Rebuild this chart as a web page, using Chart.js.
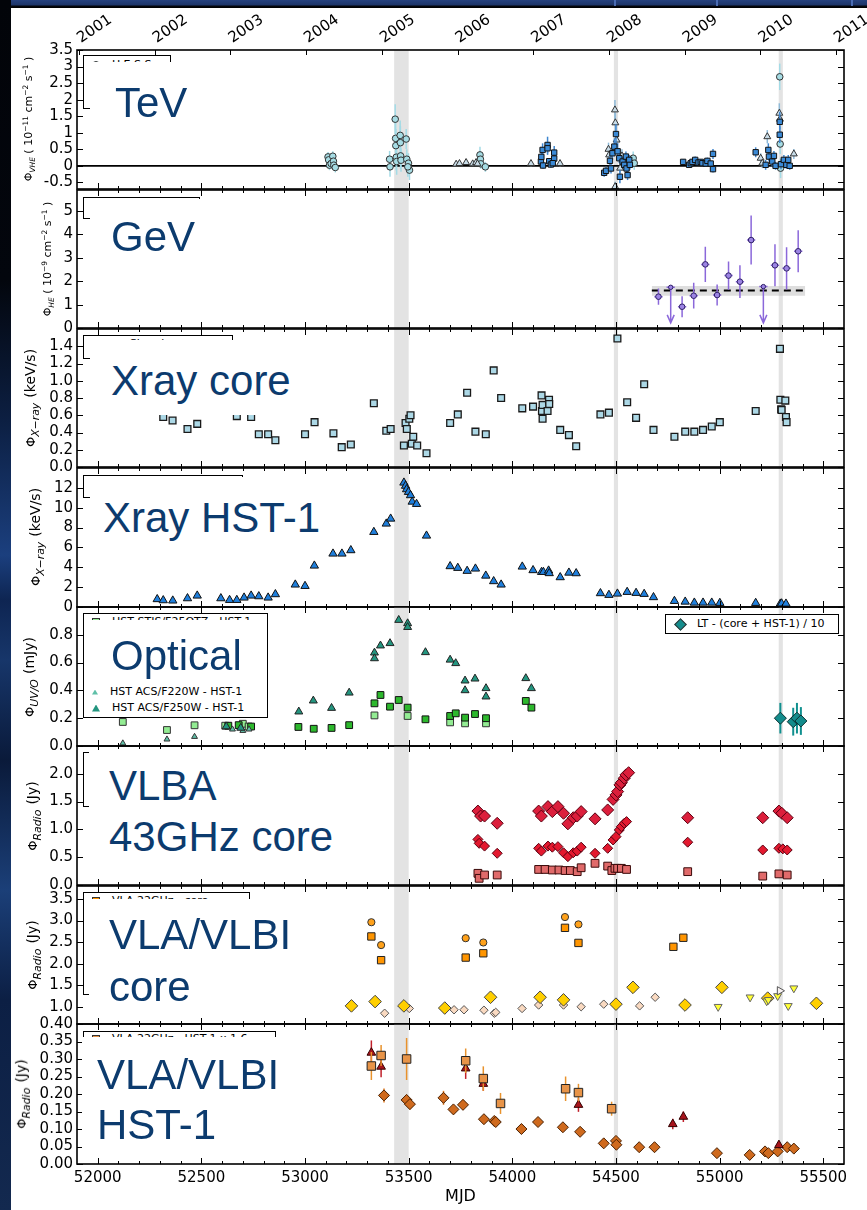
<!DOCTYPE html>
<html>
<head>
<meta charset="utf-8">
<title>M87 multi-wavelength light curves</title>
<script src="https://cdn.jsdelivr.net/npm/chart.js@4.4.1/dist/chart.umd.min.js"></script>
<style>
  html, body { margin: 0; padding: 0; }
  body { width: 867px; height: 1210px; position: relative; overflow: hidden; background: #fff; font-family: 'DejaVu Sans', sans-serif; }
  canvas { position: absolute; left: 0; }
  .strip-top { position: absolute; left: 0; top: 0; width: 867px; height: 8px; z-index: 20;
    background: linear-gradient(#26427f 0, #1d3569 5px, #05070e 6px, #000 8px); }
  .strip-top .rule { position: absolute; top: 0; width: 2px; height: 6px; background: #4a6cb4; }
  .strip-left { position: absolute; left: 0; top: 0; width: 11px; height: 1210px; z-index: 20;
    background: linear-gradient(#020409 0, #03060d 280px, #0c1f42 420px, #1b3f7e 555px, #0e2552 600px,
      #17366a 660px, #0a1a3a 760px, #1b3f78 890px, #0c1f44 1000px, #13294f 1210px); }
  .legend { position: absolute; background: #fff; border: 1px solid #000; box-sizing: border-box; z-index: 5;
    font-size: 11px; color: #000; white-space: nowrap; }
  .legend .row { position: absolute; left: 8px; height: 14px; line-height: 14px; }
  .legend .mk { display: inline-block; width: 6px; height: 6px; border: 1px solid #333; margin-right: 12px; vertical-align: middle; }
  .legend .tri { display: inline-block; width: 8px; height: 7px; margin-right: 12px; vertical-align: middle; clip-path: polygon(50% 0, 100% 100%, 0 100%); }
  .cover { position: absolute; background: #fff; z-index: 6; }
  .big { position: absolute; font-family: 'Liberation Sans', Arial, sans-serif; font-size: 42px; line-height: 42px;
    color: #0c3b6e; white-space: nowrap; z-index: 7; }
  .ytitle { position: absolute; white-space: nowrap; transform: translate(-50%, -50%) rotate(-90deg); color: #000; z-index: 4; }
  .ytitle sub, .ytitle sup { font-size: 68%; }
  .ytitle .phi { font-size: 13px; }
  .ytitle .unit { font-size: 14px; }
</style>
</head>
<body>
<div class="strip-top">
  <div class="rule" style="left:614px"></div>
  <div class="rule" style="left:716px"></div>
  <div class="rule" style="left:851px"></div>
</div>
<div class="strip-left"></div>

<!-- axis titles -->
<div class="ytitle" style="left:29px;top:119px;font-size:11px">Φ<sub><i>VHE</i></sub> ( 10<sup>−11</sup> cm<sup>−2</sup> s<sup>−1</sup> )</div>
<div class="ytitle" style="left:48px;top:259px;font-size:11px">Φ<sub><i>HE</i></sub> ( 10<sup>−9</sup> cm<sup>−2</sup> s<sup>−1</sup> )</div>
<div class="ytitle" style="left:31px;top:398px"><span class="phi">Φ</span><sub><i>X−ray</i></sub> <span class="unit">(keV/s)</span></div>
<div class="ytitle" style="left:36px;top:537px"><span class="phi">Φ</span><sub><i>X−ray</i></sub> <span class="unit">(keV/s)</span></div>
<div class="ytitle" style="left:30px;top:677px"><span class="phi">Φ</span><sub><i>UV/O</i></sub> <span class="unit">(mJy)</span></div>
<div class="ytitle" style="left:33px;top:816px"><span class="phi">Φ</span><sub><i>Radio</i></sub> <span class="unit">(Jy)</span></div>
<div class="ytitle" style="left:33px;top:955px"><span class="phi">Φ</span><sub><i>Radio</i></sub> <span class="unit">(Jy)</span></div>
<div class="ytitle" style="left:22px;top:1094px"><span class="phi">Φ</span><sub><i>Radio</i></sub> <span class="unit">(Jy)</span></div>

<!-- legends -->
<div class="legend" style="left:83px;top:55px;width:88px;height:54px">
  <div class="row" style="top:2px"><span class="mk" style="border-radius:50%;background:#a6dce4"></span>H.E.S.S.</div>
  <div class="row" style="top:18px"><span class="tri" style="background:#9cb8c8"></span>MAGIC</div>
  <div class="row" style="top:34px"><span class="mk" style="background:#3b8ad6"></span>VERITAS</div>
</div>
<div class="legend" style="left:83px;top:197px;width:117px;height:22px">
  <div class="row" style="top:4px"><span class="mk" style="border-radius:50%;background:#9c84e4"></span>Fermi-LAT</div>
</div>
<div class="legend" style="left:83px;top:335px;width:150px;height:24px">
  <div class="row" style="top:1px;left:45px">Chandra - core</div>
</div>
<div class="legend" style="left:83px;top:475px;width:160px;height:23px">
  <div class="row" style="top:4px;left:45px">Chandra - HST-1</div>
</div>
<div class="legend" style="left:83px;top:613px;width:185px;height:105px">
  <div class="row" style="top:1px"><span class="mk" style="background:#93ec93"></span>HST STIS/F25QTZ - HST-1</div>
  <div class="row" style="top:37px"><span class="mk" style="background:#2db82d"></span>HST ACS/F606W - HST-1</div>
  <div class="row" style="top:71px"><span class="tri" style="background:#5fc0a8;width:6px;height:5px"></span>HST ACS/F220W - HST-1</div>
  <div class="row" style="top:87px"><span class="tri" style="background:#23957f"></span>HST ACS/F250W - HST-1</div>
</div>
<div class="legend" style="left:665px;top:614px;width:174px;height:20px;font-size:11px">
  <div class="row" style="top:2px;left:10px"><span class="mk" style="background:#138c8c;transform:rotate(45deg);width:7px;height:7px;margin-right:12px"></span>LT - (core + HST-1) / 10</div>
</div>
<div class="legend" style="left:83px;top:752px;width:120px;height:55px">
  <div class="row" style="top:4px"><span class="mk" style="background:#dc1f3c"></span>VLBA 43GHz</div>
</div>
<div class="legend" style="left:83px;top:892px;width:167px;height:103px">
  <div class="row" style="top:1px"><span class="mk" style="background:#ff9500"></span>VLA 22GHz - core</div>
</div>
<div class="legend" style="left:83px;top:1031px;width:193px;height:100px">
  <div class="row" style="top:0px"><span class="mk" style="background:#e89448"></span>VLA 22GHz - HST-1 x 1.6</div>
</div>

<!-- panel captions -->
<div class="cover" style="left:90px;top:62px;width:112px;height:64px"></div>
<div class="cover" style="left:90px;top:199px;width:120px;height:61px"></div>
<div class="cover" style="left:90px;top:340px;width:212px;height:75px"></div>
<div class="cover" style="left:90px;top:477px;width:240px;height:66px"></div>
<div class="cover" style="left:85px;top:620px;width:181px;height:67px"></div>
<div class="cover" style="left:89px;top:750px;width:255px;height:110px"></div>
<div class="cover" style="left:89px;top:899px;width:215px;height:110px"></div>
<div class="cover" style="left:82px;top:1037px;width:215px;height:112px"></div>

<div class="big" style="left:115px;top:82px">TeV</div>
<div class="big" style="left:111px;top:216px">GeV</div>
<div class="big" style="left:111px;top:360px">Xray core</div>
<div class="big" style="left:103px;top:497px">Xray HST-1</div>
<div class="big" style="left:111px;top:635px">Optical</div>
<div class="big" style="left:109px;top:765px">VLBA</div>
<div class="big" style="left:109px;top:816px">43GHz core</div>
<div class="big" style="left:109px;top:914px">VLA/VLBI</div>
<div class="big" style="left:109px;top:966px">core</div>
<div class="big" style="left:97px;top:1054px">VLA/VLBI</div>
<div class="big" style="left:97px;top:1104px">HST-1</div>

<script>
// ---------- shared time axis ----------
const mjdTicks = [52000, 52500, 53000, 53500, 54000, 54500, 55000, 55500];
const yearTicks = [51910, 52275, 52640, 53005, 53371, 53736, 54101, 54466, 54832, 55197, 55562];
const yearLabels = ['2001', '2002', '2003', '2004', '2005', '2006', '2007', '2008', '2009', '2010', '2011'];
const flareBands = [[53430, 53500], [54490, 54510], [55285, 55305]];

// ---------- TeV ----------
const tevTicks = [-0.5, 0, 0.5, 1, 1.5, 2, 2.5, 3, 3.5];
const tevHessMjd = [53111, 53114, 53118, 53126, 53134, 53137, 53139, 53146,
  53408, 53410, 53435, 53437, 53438, 53440, 53442, 53459, 53460, 53461, 53463, 53488, 53491, 53499, 53504, 53496,
  53844, 53846, 53848, 53870, 54583, 54588, 55290, 55292, 55294];
const tevHessFlux = [0.27, 0.18, 0.02, 0.07, 0.29, 0.14, 0.02, -0.05,
  0.20, -0.03, 1.41, 0.83, 0.61, 0.26, 0.13, 0.92, 0.70, 0.30, 0.17, 0.81, 0.20, 0.08, -0.13, -0.03,
  0.33, 0.20, 0.06, -0.03, 0.23, 0.08, 2.69, 0.66, -0.07];
const tevHessErr = [0.15, 0.15, 0.15, 0.15, 0.15, 0.15, 0.15, 0.15,
  0.25, 0.3, 0.45, 0.55, 0.5, 0.4, 0.4, 0.45, 0.5, 0.4, 0.35, 0.3, 0.3, 0.3, 0.3, 0.3,
  0.25, 0.2, 0.15, 0.15, 0.2, 0.2, 0.4, 0.3, 0.3];
const tevMagicMjd = [53729, 53745, 53777, 53809, 53825, 53832, 54090, 54230,
  54464, 54467, 54495, 54497, 54503, 54496, 54520, 54529, 55198, 55206, 55230, 55288, 55291, 55358];
const tevMagicFlux = [0.05, 0.07, 0.10, 0.06, 0.10, 0.06, 0.07, 0.07,
  0.50, 0.33, 1.69, 1.30, 0.78, -0.63, -0.07, 0.30, 0.23, 0.08, 0.88, 1.59, 1.41, 0.36];
const tevMagicErr = [0.06, 0.06, 0.06, 0.06, 0.06, 0.06, 0.08, 0.08,
  0.2, 0.2, 0.3, 0.3, 0.25, 0.15, 0.15, 0.2, 0.15, 0.15, 0.2, 0.3, 0.3, 0.15];
const tevVeritasMjd = [54138, 54140, 54146, 54148, 54170, 54170, 54178, 54186, 54202, 54202, 54195,
  54443, 54452, 54471, 54476, 54483, 54492, 54500, 54508, 54516, 54519, 54532, 54540, 54548, 54551, 54556, 54564, 54567,
  54824, 54853, 54861, 54869, 54882, 54898, 54909, 54917, 54933, 54941, 54957, 54968, 54968,
  55174, 55222, 55235, 55238, 55254, 55262, 55270, 55290, 55290, 55296, 55310, 55322, 55331, 55338];
const tevVeritasFlux = [0.13, 0.27, 0.48, 0.01, 0.63, 0.53, 0.14, 0.04, 0.40, 0.22, 0.08,
  -0.21, -0.15, 0.15, -0.08, 0.38, 0.58, 0.96, 0.44, 0.23, -0.33, 0.13, 0.03, 0.28, -0.08, -0.28, 0.18, 0.03,
  0.12, 0.03, 0.08, 0.12, 0.18, 0.10, 0.12, 0.08, 0.07, 0.15, 0.07, 0.36, -0.10,
  0.41, 0.03, 0.48, 0.28, 0.13, 0.30, 0.00, 1.33, 0.94, 0.05, 0.18, 0.03, 0.18, 0.00];
const tevVeritasErr = [0.15, 0.15, 0.2, 0.1, 0.25, 0.2, 0.1, 0.1, 0.2, 0.15, 0.1,
  0.12, 0.12, 0.15, 0.15, 0.2, 0.25, 0.3, 0.25, 0.15, 0.2, 0.15, 0.12, 0.15, 0.15, 0.15, 0.15, 0.15,
  0.08, 0.08, 0.08, 0.08, 0.1, 0.08, 0.08, 0.08, 0.08, 0.1, 0.08, 0.15, 0.1,
  0.15, 0.15, 0.2, 0.15, 0.15, 0.15, 0.12, 0.3, 0.25, 0.15, 0.15, 0.12, 0.15, 0.12];

// ---------- GeV ----------
const gevTicks = [0, 1, 2, 3, 4, 5];
const gevMjd = [54705, 54819, 54875, 54931, 54988, 55043, 55098, 55152, 55267, 55323, 55379];
const gevFlux = [1.34, 0.91, 1.38, 2.72, 1.41, 2.24, 1.98, 3.76, 2.68, 2.55, 3.28];
const gevErr = [0.35, 0.45, 0.55, 0.75, 0.45, 0.6, 0.7, 1.05, 0.9, 0.9, 0.9];
const gevUlMjd = [54764, 55211];
const gevUlFlux = [1.74, 1.77];
const gevBinHalf = 20;
const gevMeanSpan = [54673, 55413];
const gevMean = 1.6;
const gevMeanBand = [1.38, 1.8];

// ---------- X-ray core ----------
const xcoreTicks = [0, 0.2, 0.4, 0.6, 0.8, 1.0, 1.2, 1.4];
const xcoreMjd = [52316, 52361, 52433, 52480, 52671, 52740, 52777, 52822, 52857, 53000, 53046, 53137, 53177, 53221,
  53332, 53392, 53413, 53477, 53485, 53491, 53503, 53509, 53515, 53522, 53541, 53586, 53700, 53737, 53782, 53822,
  53872, 53910, 53946, 54048, 54100, 54141, 54143, 54146, 54146, 54170, 54177, 54178, 54231, 54273, 54308,
  54425, 54466, 54507, 54554, 54597, 54636, 54681, 54782, 54834, 54878, 54920, 54962, 55001, 55174,
  55291, 55293, 55297, 55299, 55317, 55320, 55323];
const xcoreRate = [0.58, 0.54, 0.44, 0.50, 0.59, 0.58, 0.38, 0.38, 0.31, 0.38, 0.52, 0.39, 0.23, 0.26,
  0.74, 0.42, 0.44, 0.25, 0.51, 0.44, 0.56, 0.60, 0.27, 0.35, 0.25, 0.16, 0.51, 0.61, 0.86, 0.41,
  0.38, 1.12, 0.80, 0.68, 0.70, 0.83, 0.65, 0.72, 0.56, 0.65, 0.78, 0.73, 0.43, 0.37, 0.24,
  0.61, 0.63, 1.49, 0.75, 0.57, 0.96, 0.43, 0.35, 0.41, 0.41, 0.43, 0.47, 0.52, 0.65,
  1.37, 0.78, 0.67, 0.66, 0.77, 0.58, 0.52];

// ---------- X-ray HST-1 ----------
const xhstTicks = [0, 2, 4, 6, 8, 10, 12];
const xhstMjd = [52287, 52316, 52362, 52433, 52480, 52594, 52636, 52671, 52706, 52740, 52777, 52822, 52857,
  52953, 53000, 53045, 53135, 53178, 53221, 53332, 53392, 53413, 53477, 53485, 53490, 53499, 53509, 53517, 53538,
  53586, 53700, 53737, 53782, 53822, 53872, 53910, 53946, 54048, 54100, 54141, 54150, 54175, 54178, 54231, 54273,
  54308, 54425, 54466, 54507, 54554, 54597, 54636, 54681, 54782, 54834, 54878, 54920, 54962, 55001, 55174,
  55293, 55299, 55320];
const xhstRate = [0.78, 0.67, 0.64, 0.87, 1.14, 0.87, 0.70, 0.70, 0.94, 1.14, 1.07, 0.94, 1.28,
  2.25, 2.11, 4.16, 5.37, 5.37, 5.71, 7.55, 8.39, 8.89, 12.52, 12.2, 11.85, 11.58, 11.25, 10.6, 10.37,
  7.18, 4.10, 3.93, 3.63, 3.86, 3.15, 2.59, 2.25, 4.06, 3.70, 3.52, 3.52, 3.66, 3.40, 2.99, 3.45,
  3.39, 1.38, 1.21, 1.34, 1.51, 1.41, 1.31, 0.98, 0.60, 0.53, 0.43, 0.43, 0.43, 0.40, 0.40,
  0.33, 0.35, 0.33];

// ---------- UV / optical ----------
const optTicks = [0, 0.2, 0.4, 0.6, 0.8];
const optStisMjd = [52121, 52334, 52467, 52615, 52700, 52728, 53335, 53495, 53700, 53772, 53873];
const optStisFlux = [0.173, 0.115, 0.149, 0.146, 0.16, 0.14, 0.22, 0.216, 0.17, 0.163, 0.163];
const optF606Mjd = [52630, 52680, 52740, 52968, 53042, 53128, 53213, 53335, 53364, 53410, 53452, 53495,
  53581, 53700, 53727, 53772, 53820, 53873, 54065, 54092];
const optF606Flux = [0.146, 0.15, 0.14, 0.137, 0.124, 0.13, 0.15, 0.307, 0.367, 0.283, 0.331, 0.276,
  0.192, 0.216, 0.235, 0.204, 0.23, 0.2, 0.324, 0.276];
const optF220Mjd = [52121, 52334, 52467, 52650, 52700, 52730];
const optF220Flux = [0.02, 0.048, 0.067, 0.12, 0.11, 0.12];
const optF250Mjd = [52620, 52690, 52970, 53040, 53128, 53213, 53335, 53335, 53364, 53410, 53452, 53495, 53495,
  53581, 53700, 53727, 53772, 53772, 53820, 53873, 53873, 54065, 54092];
const optF250Flux = [0.14, 0.13, 0.247, 0.326, 0.273, 0.383, 0.671, 0.63, 0.722, 0.739, 0.906, 0.882, 0.855,
  0.674, 0.62, 0.595, 0.47, 0.40, 0.484, 0.415, 0.355, 0.487, 0.415];
const optLtMjd = [55293, 55355, 55373, 55392];
const optLtFlux = [0.20, 0.175, 0.20, 0.18];
const optLtErr = [0.11, 0.10, 0.11, 0.10];

// ---------- VLBA 43 GHz ----------
const vlbaTicks = [0, 0.5, 1.0, 1.5, 2.0];
const vlbaTotMjd = [53834, 53847, 53866, 53927, 54127, 54140, 54172, 54193, 54220, 54247, 54268, 54294, 54313,
  54332, 54399, 54460, 54486, 54500, 54508, 54519, 54526, 54540, 54548, 54561, 54846, 55208, 55286, 55300, 55326];
const vlbaTotFlux = [1.33, 1.24, 1.24, 1.11, 1.33, 1.24, 1.41, 1.32, 1.41, 1.29, 1.10, 1.21, 1.24,
  1.32, 1.19, 1.35, 1.54, 1.62, 1.68, 1.80, 1.84, 1.92, 1.98, 2.02, 1.21, 1.21, 1.33, 1.29, 1.21];
const vlbaCoreMjd = [53834, 53840, 53866, 53927, 54127, 54140, 54172, 54193, 54220, 54247, 54268, 54294, 54313,
  54332, 54399, 54460, 54486, 54500, 54516, 54526, 54540, 54551, 54846, 55208, 55286, 55305, 55326];
const vlbaCoreFlux = [0.82, 0.75, 0.70, 0.57, 0.66, 0.61, 0.70, 0.68, 0.69, 0.58, 0.51, 0.58, 0.61,
  0.68, 0.57, 0.66, 0.81, 0.87, 0.99, 1.05, 1.11, 1.14, 0.77, 0.63, 0.66, 0.65, 0.63];
const vlbaJetMjd = [53834, 53840, 53866, 53927, 54127, 54158, 54193, 54225, 54255, 54280, 54313, 54332,
  54399, 54460, 54480, 54495, 54508, 54526, 54551, 54846, 55208, 55286, 55326];
const vlbaJetFlux = [0.21, 0.12, 0.18, 0.18, 0.28, 0.28, 0.27, 0.27, 0.26, 0.26, 0.24, 0.31,
  0.39, 0.34, 0.26, 0.30, 0.30, 0.30, 0.28, 0.24, 0.16, 0.20, 0.18];

// ---------- VLA / VLBI core ----------
const vlaCoreTicks = [1.0, 1.5, 2.0, 2.5, 3.0, 3.5];
const vla15Mjd = [53320, 53367, 53775, 53860, 54254, 54319];
const vla15Flux = [2.96, 2.43, 2.59, 2.49, 3.08, 2.91];
const vla22Mjd = [53320, 53367, 53775, 53860, 54254, 54319, 54777, 54825];
const vla22Flux = [2.63, 2.08, 2.14, 2.24, 2.83, 2.48, 2.39, 2.60];
const vlbiGoldMjd = [53224, 53338, 53477, 53674, 53895, 54134, 54247, 54500, 54582, 54833, 55011, 55232, 55467];
const vlbiGoldFlux = [1.02, 1.12, 1.02, 0.97, 1.22, 1.22, 1.16, 1.06, 1.45, 1.04, 1.45, 1.20, 1.08];
const vlbiPeachMjd = [53384, 53503, 53674, 53719, 53767, 53863, 53913, 53920, 54047, 54127, 54247, 54332,
  54441, 54500, 54614, 54689];
const vlbiPeachFlux = [0.85, 0.96, 0.94, 0.93, 0.93, 0.92, 0.85, 0.87, 0.96, 1.04, 1.04, 1.00,
  1.06, 1.04, 1.02, 1.22];
const vlbiDownMjd = [54993, 55147, 55227, 55235, 55280, 55331, 55358];
const vlbiDownFlux = [1.0, 1.22, 1.13, 1.16, 1.25, 1.02, 1.43];
const vlbiSideMjd = [55290];
const vlbiSideFlux = [1.37];

// ---------- VLA / VLBI HST-1 ----------
const hstRadioTicks = [0, 0.05, 0.10, 0.15, 0.20, 0.25, 0.30, 0.35, 0.40];
const hst22Mjd = [53320, 53367, 53490, 53775, 53860, 53943, 54257, 54319, 54479];
const hst22Flux = [0.28, 0.31, 0.30, 0.295, 0.244, 0.173, 0.215, 0.204, 0.158];
const hst22Err = [0.04, 0.03, 0.06, 0.035, 0.035, 0.03, 0.035, 0.025, 0.02];
const hst15Mjd = [53320, 53367, 53775, 53860, 54319, 54774, 54825, 55286];
const hst15Flux = [0.318, 0.278, 0.273, 0.229, 0.169, 0.114, 0.135, 0.054];
const hst15Err = [0.035, 0.03, 0.03, 0.02, 0.02, 0.015, 0.015, 0.01];
const hstVlbiMjd = [53381, 53490, 53506, 53668, 53716, 53762, 53863, 53913, 53920, 54044, 54124, 54244, 54327,
  54441, 54500, 54502, 54612, 54686, 54987, 55145, 55219, 55235, 55280, 55326, 55358];
const hstVlbiFlux = [0.196, 0.183, 0.171, 0.189, 0.156, 0.169, 0.128, 0.123, 0.12, 0.1, 0.12, 0.105, 0.092,
  0.059, 0.066, 0.055, 0.048, 0.048, 0.031, 0.026, 0.036, 0.031, 0.036, 0.048, 0.044];
const hstVlbiErr = [0.02, 0.015, 0.015, 0.02, 0.012, 0.015, 0.01, 0.01, 0.01, 0.01, 0.01, 0.008, 0.008,
  0.008, 0.008, 0.006, 0.006, 0.006, 0.004, 0.004, 0.004, 0.004, 0.004, 0.004, 0.004];

// ---------- drawing helpers ----------
const TICK_FONT = "'DejaVu Sans', sans-serif";
const X_LIMITS = [51900, 55600];
const PANEL_EDGES = [[50, 189], [190, 328], [329, 467], [468, 607], [607, 746], [746, 885], [886, 1024], [1024, 1164]];
const PAGE_H = 1210, PAGE_W = 867, AXIS_W = 77, RIGHT_PAD = 23;
const YEAR_ANGLE = 34;

const pts = (xs, ys) => xs.map((x, i) => ({ x, y: ys[i] }));
function marks(xs, ys, style) {
  return Object.assign({ type: 'scatter', data: pts(xs, ys), showLine: false, borderWidth: 1, borderColor: '#222' }, style);
}
function hline(span, value, style) {
  return Object.assign({ type: 'line', data: pts(span, [value, value]), pointRadius: 0, borderWidth: 0, fill: false }, style);
}

// bands, error bars, upper-limit arrows, frame, inward ticks and the slanted year axis
const decor = {
  id: 'decor',
  beforeDatasetsDraw(chart) {
    const { ctx, chartArea: a, scales: { x } } = chart;
    ctx.save();
    ctx.fillStyle = '#e3e3e3';
    for (const [s, e] of flareBands) {
      const x0 = x.getPixelForValue(s), x1 = x.getPixelForValue(e);
      ctx.fillRect(x0, a.top, x1 - x0, a.bottom - a.top);
    }
    ctx.restore();
  },
  beforeDatasetDraw(chart, args) {
    const ds = chart.data.datasets[args.index];
    if (!ds.yErr && !ds.xErr && ds.ulTo === undefined) return;
    const { ctx, chartArea: a, scales: { x, y } } = chart;
    ctx.save();
    ctx.beginPath(); ctx.rect(a.left, a.top, a.right - a.left, a.bottom - a.top); ctx.clip();
    ctx.strokeStyle = ds.errColor || '#000';
    ctx.lineWidth = ds.errWidth || 1.5;
    ds.data.forEach((p, i) => {
      const px = x.getPixelForValue(p.x), py = y.getPixelForValue(p.y);
      ctx.beginPath();
      if (ds.yErr) {
        const e = ds.yErr[i];
        ctx.moveTo(px, y.getPixelForValue(p.y - e)); ctx.lineTo(px, y.getPixelForValue(p.y + e));
      }
      if (ds.xErr) {
        const e = Array.isArray(ds.xErr) ? ds.xErr[i] : ds.xErr;
        ctx.moveTo(x.getPixelForValue(p.x - e), py); ctx.lineTo(x.getPixelForValue(p.x + e), py);
      }
      if (ds.ulTo !== undefined) {
        const yb = y.getPixelForValue(ds.ulTo);
        ctx.moveTo(px, py); ctx.lineTo(px, yb);
        ctx.moveTo(px - 3.5, yb - 8); ctx.lineTo(px, yb); ctx.lineTo(px + 3.5, yb - 8);
      }
      ctx.stroke();
    });
    ctx.restore();
  },
  afterDraw(chart, args, opts) {
    const { ctx, chartArea: a, scales: { x, y } } = chart;
    ctx.save();
    ctx.strokeStyle = '#000';
    ctx.lineWidth = 1;
    ctx.beginPath();
    for (const t of y.ticks) {
      const py = Math.round(y.getPixelForValue(t.value)) + 0.5;
      ctx.moveTo(a.left, py); ctx.lineTo(a.left + 6, py);
      ctx.moveTo(a.right - 6, py); ctx.lineTo(a.right, py);
    }
    for (let v = mjdTicks[0]; v <= mjdTicks[mjdTicks.length - 1]; v += 100) {
      const px = Math.round(x.getPixelForValue(v)) + 0.5;
      const len = v % 500 === 0 ? 6 : 3;
      ctx.moveTo(px, a.bottom); ctx.lineTo(px, a.bottom - len);
      if (!opts.yearTop) { ctx.moveTo(px, a.top); ctx.lineTo(px, a.top + len); }
    }
    const yx = chart.scales.x2;
    if (opts.yearTop && yx) {
      for (const t of yx.ticks) {
        const px = Math.round(yx.getPixelForValue(t.value)) + 0.5;
        ctx.moveTo(px, a.top); ctx.lineTo(px, a.top + 5);
      }
    }
    ctx.stroke();
    ctx.lineWidth = 1.6;
    ctx.strokeRect(a.left, a.top, a.right - a.left, a.bottom - a.top);

    if (opts.yearTop && yx) {
      ctx.fillStyle = '#000';
      ctx.font = '15px ' + TICK_FONT;
      ctx.textAlign = 'left';
      ctx.textBaseline = 'alphabetic';
      yx.ticks.forEach((t, k) => {
        const px = yx.getPixelForValue(t.value);
        ctx.save();
        ctx.translate(px + 2, a.top - 7);
        ctx.rotate(-YEAR_ANGLE * Math.PI / 180);
        ctx.fillText(yearLabels[k], 0, 0);
        ctx.restore();
      });
    }
    ctx.restore();
  }
};

function zeroPad(s) { s.paddingLeft = 0; s.paddingRight = 0; s.paddingTop = 0; s.paddingBottom = 0; }

function buildPanel(i, spec) {
  const [pTop, pBot] = PANEL_EDGES[i];
  const first = i === 0, last = i === PANEL_EDGES.length - 1;
  const cTop = first ? 0 : pTop - 12;
  const cBot = last ? PAGE_H : pBot + 12;
  const cv = document.createElement('canvas');
  cv.width = PAGE_W; cv.height = cBot - cTop;
  cv.style.top = cTop + 'px';
  cv.style.width = PAGE_W + 'px'; cv.style.height = (cBot - cTop) + 'px';
  document.body.appendChild(cv);

  const scales = {
    x: {
      type: 'linear', min: X_LIMITS[0], max: X_LIMITS[1], display: last,
      grid: { display: false, drawTicks: false }, border: { display: false },
      afterBuildTicks: s => { s.ticks = mjdTicks.map(v => ({ value: v })); },
      ticks: { autoSkip: false, maxRotation: 0, padding: 5, color: '#000', font: { family: TICK_FONT, size: 15 }, callback: v => String(v) },
      title: { display: last, text: 'MJD', color: '#000', font: { family: TICK_FONT, size: 16 }, padding: { top: 0, bottom: 4 } },
      afterFit: s => { zeroPad(s); if (last) s.height = PAGE_H - pBot; }
    },
    y: {
      type: 'linear', min: spec.yMin, max: spec.yMax,
      grid: { display: false, drawTicks: false }, border: { display: false },
      afterBuildTicks: s => { s.ticks = spec.yTicks.map(v => ({ value: v })); },
      ticks: { autoSkip: false, padding: 4, color: '#000', font: { family: TICK_FONT, size: 15 }, callback: spec.fmt },
      afterFit: s => { zeroPad(s); s.width = AXIS_W; }
    }
  };
  if (first) {
    // calendar-year axis along the top edge; its slanted labels are painted by the decor plugin
    scales.x2 = {
      type: 'linear', position: 'top', min: X_LIMITS[0], max: X_LIMITS[1],
      grid: { display: false, drawTicks: false }, border: { display: false },
      afterBuildTicks: s => { s.ticks = yearTicks.map(v => ({ value: v })); },
      ticks: { display: false, autoSkip: false },
      afterFit: s => { zeroPad(s); s.height = pTop; }
    };
  }

  new Chart(cv, {
    type: 'scatter',
    data: { datasets: spec.datasets },
    options: {
      responsive: false, animation: false, devicePixelRatio: 1, events: [],
      layout: { padding: { left: 0, right: RIGHT_PAD, top: first ? 0 : 12, bottom: last ? 0 : 12 } },
      plugins: { legend: { display: false }, tooltip: { enabled: false }, decor: { yearTop: first } },
      scales
    },
    plugins: [decor]
  });
}

const fmt0 = v => String(v);
const fmt1 = v => v.toFixed(1);
const fmt2 = v => v.toFixed(2);

const panels = [
  { yMin: -0.7, yMax: 3.5, yTicks: tevTicks, fmt: fmt0, datasets: [
    marks(tevVeritasMjd, tevVeritasFlux, { label: 'VERITAS', pointStyle: 'rect', pointRadius: 3.8, backgroundColor: '#3b8ad6', borderColor: '#111', yErr: tevVeritasErr, errColor: '#3f86cf' }),
    marks(tevMagicMjd, tevMagicFlux, { label: 'MAGIC', pointStyle: 'triangle', pointRadius: 4, backgroundColor: '#c9dde9', borderColor: '#333', yErr: tevMagicErr, errColor: '#8fbad8' }),
    marks(tevHessMjd, tevHessFlux, { label: 'H.E.S.S.', pointStyle: 'circle', pointRadius: 3.3, backgroundColor: '#a6dce4', borderColor: '#333', yErr: tevHessErr, errColor: '#a3dbe6' }),
    hline(X_LIMITS, 0, { borderColor: '#000', borderWidth: 1.6 })
  ]},
  { yMin: 0, yMax: 5.9, yTicks: gevTicks, fmt: fmt0, datasets: [
    marks(gevMjd, gevFlux, { label: 'Fermi-LAT', pointStyle: 'circle', pointRadius: 2.8, backgroundColor: '#9c84e4', borderColor: '#2e1f66', yErr: gevErr, xErr: gevBinHalf, errColor: '#8b68da' }),
    marks(gevUlMjd, gevUlFlux, { label: 'Fermi-LAT UL', pointStyle: 'circle', pointRadius: 2.2, backgroundColor: '#9c84e4', borderColor: '#2e1f66', xErr: gevBinHalf, ulTo: 0.22, errColor: '#8b68da' }),
    hline(gevMeanSpan, gevMean, { borderColor: '#000', borderWidth: 2, borderDash: [7, 5] }),
    hline(gevMeanSpan, gevMeanBand[1], { fill: '+1', backgroundColor: 'rgba(190,190,190,0.5)' }),
    hline(gevMeanSpan, gevMeanBand[0], {})
  ]},
  { yMin: 0, yMax: 1.6, yTicks: xcoreTicks, fmt: fmt1, datasets: [
    marks(xcoreMjd, xcoreRate, { label: 'Chandra - core', pointStyle: 'rect', pointRadius: 4.8, backgroundColor: '#acd8e6', borderColor: '#1a1a1a', borderWidth: 1.3 })
  ]},
  { yMin: 0, yMax: 14, yTicks: xhstTicks, fmt: fmt0, datasets: [
    marks(xhstMjd, xhstRate, { label: 'Chandra - HST-1', pointStyle: 'triangle', pointRadius: 4.8, backgroundColor: '#1f7fdc', borderColor: '#111' })
  ]},
  { yMin: 0, yMax: 1.0, yTicks: optTicks, fmt: fmt1, datasets: [
    marks(optLtMjd, optLtFlux, { label: 'LT - (core + HST-1) / 10', pointStyle: 'rectRot', pointRadius: 6, backgroundColor: '#138c8c', borderColor: '#0a3030', yErr: optLtErr, errColor: '#10908f', errWidth: 2 }),
    marks(optF250Mjd, optF250Flux, { label: 'HST ACS/F250W - HST-1', pointStyle: 'triangle', pointRadius: 4.6, backgroundColor: '#23957f', borderColor: '#222' }),
    marks(optF220Mjd, optF220Flux, { label: 'HST ACS/F220W - HST-1', pointStyle: 'triangle', pointRadius: 3.4, backgroundColor: '#5fc0a8', borderColor: '#333' }),
    marks(optF606Mjd, optF606Flux, { label: 'HST ACS/F606W - HST-1', pointStyle: 'rect', pointRadius: 4.8, backgroundColor: '#2db82d', borderColor: '#111' }),
    marks(optStisMjd, optStisFlux, { label: 'HST STIS/F25QTZ - HST-1', pointStyle: 'rect', pointRadius: 4.8, backgroundColor: '#93ec93', borderColor: '#333' })
  ]},
  { yMin: 0, yMax: 2.5, yTicks: vlbaTicks, fmt: fmt1, datasets: [
    marks(vlbaTotMjd, vlbaTotFlux, { label: 'VLBA 43GHz', pointStyle: 'rectRot', pointRadius: 6, backgroundColor: '#dc1f3c', borderColor: '#5a0010' }),
    marks(vlbaCoreMjd, vlbaCoreFlux, { label: 'VLBA 43GHz core', pointStyle: 'rectRot', pointRadius: 5, backgroundColor: '#e3192f', borderColor: '#5a0010' }),
    marks(vlbaJetMjd, vlbaJetFlux, { label: 'VLBA 43GHz jet', pointStyle: 'rect', pointRadius: 5.5, backgroundColor: '#e06a6a', borderColor: '#3a0a0a' })
  ]},
  { yMin: 0.6, yMax: 3.8, yTicks: vlaCoreTicks, fmt: fmt1, datasets: [
    marks(vla15Mjd, vla15Flux, { label: 'VLA 15GHz - core', pointStyle: 'circle', pointRadius: 3.6, backgroundColor: '#ffa11a', borderColor: '#333' }),
    marks(vla22Mjd, vla22Flux, { label: 'VLA 22GHz - core', pointStyle: 'rect', pointRadius: 5.2, backgroundColor: '#ff9500', borderColor: '#222' }),
    marks(vlbiSideMjd, vlbiSideFlux, { label: 'VLBI', pointStyle: 'triangle', pointRotation: 90, pointRadius: 4.8, backgroundColor: '#f6f0f0', borderColor: '#555' }),
    marks(vlbiDownMjd, vlbiDownFlux, { label: 'VLBI', pointStyle: 'triangle', pointRotation: 180, pointRadius: 4.6, backgroundColor: '#ffff33', borderColor: '#666' }),
    marks(vlbiGoldMjd, vlbiGoldFlux, { label: 'VLBI', pointStyle: 'rectRot', pointRadius: 6.3, backgroundColor: '#ffcf00', borderColor: '#444' }),
    marks(vlbiPeachMjd, vlbiPeachFlux, { label: 'VLBI', pointStyle: 'rectRot', pointRadius: 4.2, backgroundColor: '#f9d9c0', borderColor: '#555' })
  ]},
  { yMin: 0, yMax: 0.40, yTicks: hstRadioTicks, fmt: fmt2, datasets: [
    marks(hst22Mjd, hst22Flux, { label: 'VLA 22GHz - HST-1', pointStyle: 'rect', pointRadius: 6, backgroundColor: '#e89448', borderColor: '#222', yErr: hst22Err, errColor: '#e8922c' }),
    marks(hst15Mjd, hst15Flux, { label: 'VLA 15GHz - HST-1', pointStyle: 'triangle', pointRadius: 5, backgroundColor: '#a8141c', borderColor: '#300', yErr: hst15Err, errColor: '#c0202a' }),
    marks(hstVlbiMjd, hstVlbiFlux, { label: 'VLBI - HST-1', pointStyle: 'rectRot', pointRadius: 5.5, backgroundColor: '#cf6a1e', borderColor: '#4a2000', yErr: hstVlbiErr, errColor: '#e07a20' })
  ]}
];

panels.forEach((spec, i) => buildPanel(i, spec));
</script>
</body>
</html>
